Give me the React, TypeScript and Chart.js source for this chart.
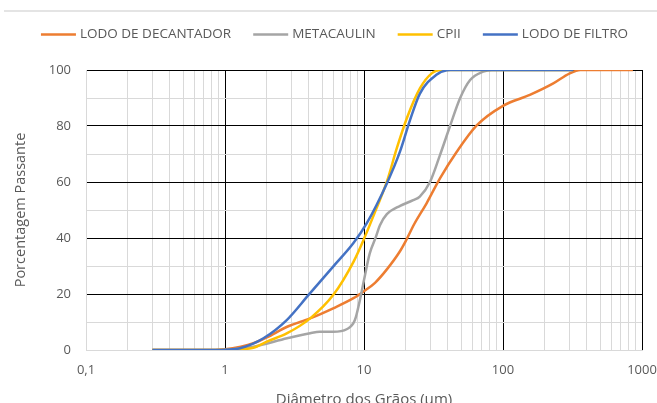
import React, { useEffect, useRef } from "react";
import { Chart, registerables } from "chart.js";

Chart.register(...registerables);

// ---- data ----
const seriesLabels = ["LODO DE DECANTADOR", "METACAULIN", "CPII", "LODO DE FILTRO"];
const seriesColors = ["#ED7D31", "#A5A5A5", "#FFC000", "#4472C4"];

const decantadorX = [0.3, 0.7, 1.0, 1.3, 1.6, 2.0, 2.8, 4.1, 6.0, 8.4, 10, 12, 14.6, 18, 20, 23, 28.2, 35.2, 46.5, 64.7, 100, 156, 230, 300, 360, 860];
const decantadorY = [0, 0, 0.3, 1.2, 2.4, 4.5, 8.3, 11.3, 14.9, 18.5, 21, 24, 28.8, 35, 39, 45, 52.4, 61.3, 70.8, 80.2, 87.2, 91.1, 95.2, 98.7, 100, 100];

const metacaulinX = [0.3, 0.8, 1.1, 1.6, 2.8, 4.1, 4.8, 6.0, 7.5, 8.6, 9.35, 10, 11, 12.2, 13, 14.6, 18.2, 22.6, 25.2, 29.9, 35.2, 41.6, 49.1, 58, 72, 83, 320];
const metacaulinY = [0, 0, 0.2, 1.2, 4.2, 6.0, 6.5, 6.5, 7.4, 10.7, 17.9, 25, 34.5, 40.5, 44.5, 48.5, 51.5, 53.5, 54.8, 60.1, 69.6, 80, 89.9, 96.4, 99.4, 100, 100];

const cpiiX = [0.3, 0.9, 1.2, 1.6, 2.0, 2.8, 4.1, 6.0, 8.4, 10, 12.3, 14.6, 17.2, 20.3, 25.3, 30.7, 36.2, 320];
const cpiiY = [0, 0, 0.2, 0.8, 3, 6.0, 11.3, 19.6, 31.5, 39.7, 50.6, 60.1, 72, 82.7, 93.5, 98.8, 100, 100];

const filtroX = [0.3, 0.9, 1.0, 1.28, 1.89, 2.78, 3.98, 6.0, 8.37, 10.45, 14.6, 18.2, 21.4, 25.2, 33.4, 39.3, 42, 320];
const filtroY = [0, 0, 0.1, 0.6, 4.2, 10.7, 19.6, 29.8, 38.1, 45.2, 59.5, 71, 82, 91.5, 98.4, 99.9, 100, 100];

const xMajorTicks = [0.1, 1, 10, 100, 1000];
const xTickLabels = ["0,1", "1", "10", "100", "1000"];
const yMin = 0;
const yMax = 100;
const yStep = 10;
const yLabelStep = 20;

const xTitle = "Diâmetro dos Grãos (µm)";
const yTitle = "Porcentagem Passante";

const FONT = '"Open Sans", sans-serif';
const TEXT_COLOR = "#595959";
const MAJOR_GRID = "#000000";
const MINOR_GRID = "#d9d9d9";

function pts(xs: number[], ys: number[]) {
  return xs.map((x, i) => ({ x, y: ys[i] }));
}

// grid values for the log axis: 1..9 multiples of each decade
function buildLogGrid(): number[] {
  const out: number[] = [];
  for (let d = 0; d < xMajorTicks.length; d++) {
    const base = xMajorTicks[d];
    out.push(base);
    if (d < xMajorTicks.length - 1) {
      for (let m = 2; m <= 9; m++) out.push(+(base * m).toPrecision(6));
    }
  }
  return out;
}

const legendPlugin = {
  id: "customLegend",
  afterDraw(chart: any) {
    const ctx: CanvasRenderingContext2D = chart.ctx;
    ctx.save();
    ctx.font = `13.5px ${FONT}`;
    const items = chart.data.datasets.map((ds: any) => ({
      label: ds.label as string,
      color: ds.borderColor as string,
      w: ctx.measureText(ds.label).width,
    }));
    const lineLen = 35;
    const gap = 4;
    const spacing = 22;
    const total =
      items.reduce((s: number, it: any) => s + lineLen + gap + it.w, 0) +
      spacing * (items.length - 1);
    let x = 334.5 - total / 2;
    const y = 34.5;
    ctx.textBaseline = "middle";
    ctx.textAlign = "left";
    for (const it of items) {
      ctx.strokeStyle = it.color;
      ctx.lineWidth = 2.5;
      ctx.beginPath();
      ctx.moveTo(x, y);
      ctx.lineTo(x + lineLen, y);
      ctx.stroke();
      ctx.fillStyle = TEXT_COLOR;
      ctx.fillText(it.label, x + lineLen + gap, y);
      x += lineLen + gap + it.w + spacing;
    }
    ctx.restore();
  },
  beforeDraw(chart: any) {
    const ctx: CanvasRenderingContext2D = chart.ctx;
    ctx.save();
    ctx.fillStyle = "#ffffff";
    ctx.fillRect(0, 0, chart.width, chart.height);
    ctx.strokeStyle = "#e4e4e4";
    ctx.lineWidth = 2;
    ctx.beginPath();
    ctx.moveTo(4, 11);
    ctx.lineTo(chart.width, 11);
    ctx.stroke();
    ctx.restore();
  },
};

export default function App() {
  const ref = useRef<HTMLCanvasElement>(null);

  useEffect(() => {
    const canvas = ref.current;
    if (!canvas) return;
    const xs = [decantadorX, metacaulinX, cpiiX, filtroX];
    const ys = [decantadorY, metacaulinY, cpiiY, filtroY];
    const gridVals = buildLogGrid();

    const chart = new Chart(canvas, {
      type: "line",
      data: {
        datasets: seriesLabels.map((label, i) => ({
          label,
          data: pts(xs[i], ys[i]),
          borderColor: seriesColors[i],
          backgroundColor: seriesColors[i],
          borderWidth: 2.5,
          pointRadius: 0,
          pointHoverRadius: 0,
          fill: false,
          cubicInterpolationMode: "monotone" as const,
          order: seriesLabels.length - i,
        })),
      },
      options: {
        responsive: false,
        animation: false,
        devicePixelRatio: 1,
        layout: { padding: { top: 70, left: 0, right: 15, bottom: 0 } },
        plugins: {
          legend: { display: false },
          tooltip: { enabled: false },
        },
        scales: {
          x: {
            type: "logarithmic",
            min: xMajorTicks[0],
            max: xMajorTicks[xMajorTicks.length - 1],
            afterBuildTicks: (scale: any) => {
              scale.ticks = gridVals.map((v) => ({ value: v, major: xMajorTicks.includes(v) }));
            },
            afterFit: (scale: any) => {
              scale.height = 53;
              scale.paddingLeft = 0;
              scale.paddingRight = 0;
            },
            ticks: {
              autoSkip: false,
              maxRotation: 0,
              minRotation: 0,
              padding: 12,
              color: TEXT_COLOR,
              font: { family: FONT, size: 13 },
              callback: (value: any) => {
                const idx = xMajorTicks.findIndex((m) => Math.abs(m - Number(value)) < 1e-9);
                return idx >= 0 ? xTickLabels[idx] : "";
              },
            },
            grid: {
              drawTicks: false,
              lineWidth: 1,
              color: (ctx: any) => {
                const v = ctx.tick ? ctx.tick.value : 0;
                if (Math.abs(v - xMajorTicks[0]) < 1e-9) return MINOR_GRID;
                return xMajorTicks.some((m) => Math.abs(m - v) < 1e-9) ? MAJOR_GRID : MINOR_GRID;
              },
            },
            border: { display: true, color: MINOR_GRID, width: 1 },
            title: {
              display: true,
              text: xTitle,
              color: TEXT_COLOR,
              font: { family: FONT, size: 15, lineHeight: 1 },
              padding: { top: 0, bottom: -4 },
            },
          },
          y: {
            type: "linear",
            min: yMin,
            max: yMax,
            afterFit: (scale: any) => {
              scale.width = 86;
            },
            ticks: {
              stepSize: yStep,
              padding: 15,
              color: TEXT_COLOR,
              font: { family: FONT, size: 13 },
              callback: (value: any) => (Number(value) % yLabelStep === 0 ? String(value) : ""),
            },
            grid: {
              drawTicks: false,
              lineWidth: 1,
              color: (ctx: any) => {
                const v = ctx.tick ? ctx.tick.value : 0;
                if (v === yMin) return MINOR_GRID;
                return v % yLabelStep === 0 ? MAJOR_GRID : MINOR_GRID;
              },
            },
            border: { display: true, color: MINOR_GRID, width: 1 },
            title: {
              display: true,
              text: yTitle,
              color: TEXT_COLOR,
              font: { family: FONT, size: 14.5, lineHeight: 1.2 },
              padding: { top: 12, bottom: 0 },
            },
          },
        },
      },
      plugins: [legendPlugin],
    } as any);

    return () => chart.destroy();
  }, []);

  return (
    <div style={{ position: "absolute", left: 0, top: 0, width: 657, height: 403, background: "#fff" }}>
      <canvas ref={ref} width={657} height={403} style={{ display: "block", width: 657, height: 403 }} />
    </div>
  );
}
